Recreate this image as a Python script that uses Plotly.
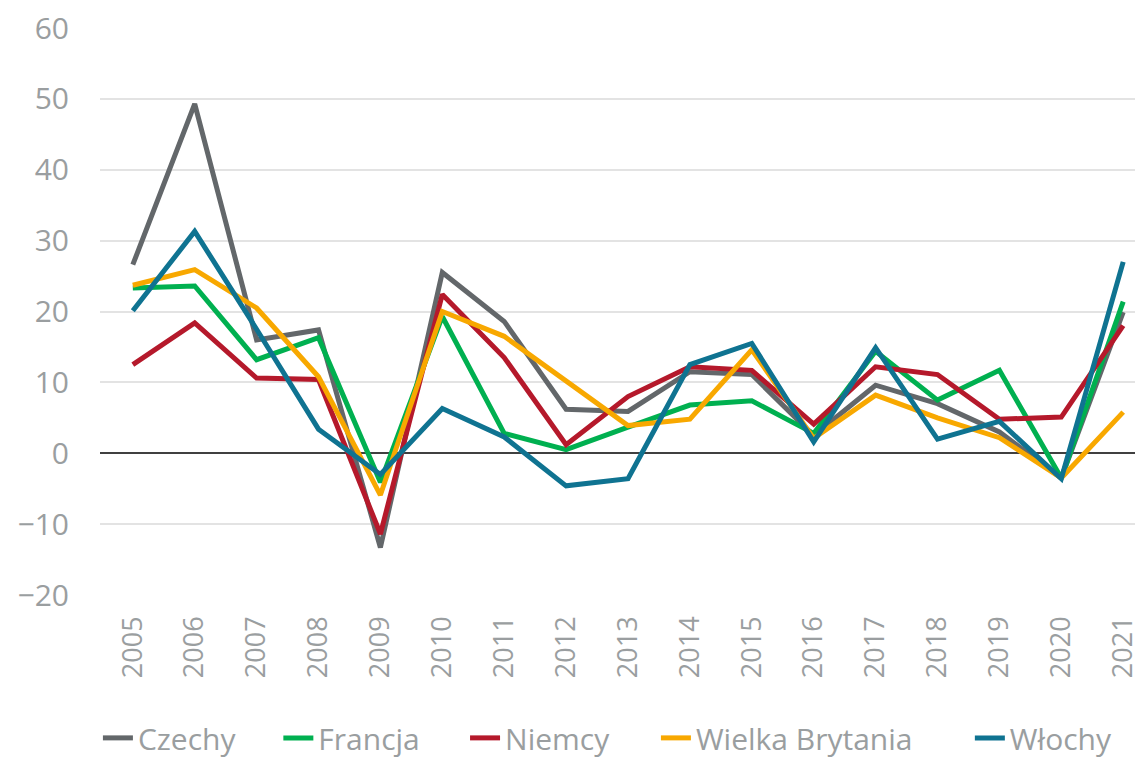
import plotly.graph_objects as go

years = list(range(2005, 2022))
czechy = [26.6, 49.3, 16.0, 17.4, -13.3, 25.5, 18.6, 6.2, 5.9, 11.5, 11.1, 2.5, 9.6, 7.0, 3.0, -3.5, 19.9]
francja = [23.3, 23.6, 13.2, 16.3, -4.1, 19.3, 2.8, 0.5, 3.7, 6.8, 7.4, 2.8, 14.4, 7.5, 11.7, -3.5, 21.4]
niemcy = [12.5, 18.4, 10.6, 10.4, -11.4, 22.4, 13.5, 1.2, 8.0, 12.2, 11.7, 4.1, 12.2, 11.1, 4.8, 5.1, 18.0]
wielka_brytania = [23.7, 25.9, 20.5, 10.8, -5.9, 20.0, 16.5, 10.1, 3.9, 4.8, 14.6, 2.1, 8.2, 5.0, 2.2, -3.5, 5.8]
wlochy = [20.1, 31.3, 17.5, 3.4, -3.0, 6.3, 2.3, -4.6, -3.6, 12.5, 15.5, 1.6, 14.9, 2.0, 4.5, -3.6, 27.0]

series = [
    ("Czechy", czechy, "#63676A"),
    ("Francja", francja, "#00B050"),
    ("Niemcy", niemcy, "#B5192B"),
    ("Wielka Brytania", wielka_brytania, "#F8A800"),
    ("Włochy", wlochy, "#0F7391"),
]
legend_x = [-0.002, 0.171, 0.350, 0.533, 0.834]

font_family = "Open Sans, sans-serif"
text_col = "#9A9EA0"

fig = go.Figure()
legend_layout = {}
for i, (name, vals, col) in enumerate(series):
    lid = "legend" if i == 0 else f"legend{i + 1}"
    fig.add_trace(go.Scatter(x=years, y=vals, name=name, mode="lines",
                             line=dict(color=col, width=5), legend=lid))
    legend_layout[lid] = dict(orientation="h", x=legend_x[i], xanchor="left",
                              y=-0.252, yanchor="middle",
                              font=dict(size=30, color=text_col, family=font_family),
                              bgcolor="rgba(0,0,0,0)", borderwidth=0)

fig.update_layout(
    width=1135, height=752,
    margin=dict(l=92, r=0, t=20, b=165, autoexpand=False),
    plot_bgcolor="white", paper_bgcolor="white",
    font=dict(family=font_family, color=text_col, size=30),
    showlegend=True,
    xaxis=dict(range=[2004.47, 2021.32], tickmode="array", tickvals=years,
               ticktext=[str(y) for y in years], tickangle=-90, showgrid=False,
               zeroline=False, showline=False, ticks="", ticklen=0,
               ticklabelstandoff=15, ticklabeloverflow="allow",
               tickfont=dict(size=27, color=text_col)),
    yaxis=dict(range=[-20, 60], tickmode="array", tickvals=list(range(-20, 61, 10)),
               showgrid=True, gridcolor="#E3E3E3", gridwidth=1.5,
               zeroline=True, zerolinecolor="#404040", zerolinewidth=1.5,
               showline=False, ticks="", ticklabelstandoff=30,
               ticklabeloverflow="allow",
               tickfont=dict(size=30, color=text_col)),
    **legend_layout,
)

fig.write_html("out.html")
